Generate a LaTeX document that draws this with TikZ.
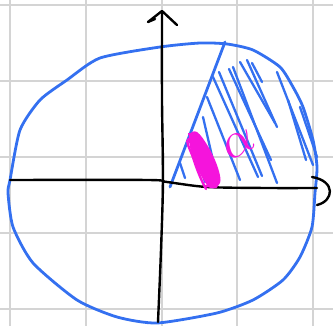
\documentclass[tikz,border=0pt]{standalone}
\usetikzlibrary{calc}
\definecolor{penblue}{RGB}{52,112,240}
\definecolor{penpink}{RGB}{245,20,220}
\definecolor{gridgray}{RGB}{212,212,212}
\begin{document}
\begin{tikzpicture}[x=1pt,y=-1pt,line cap=round,line join=round,
  pen/.style={penblue,line width=2.8pt},
  hatch/.style={penblue,line width=2.3pt},
  scribble/.style={penpink,line width=2.4pt},
  ax/.style={black,line width=2.4pt}]
\useasboundingbox (0,0) rectangle (333,326);
% ---- grid ----
\foreach \gx in {10,86,162,237,313}
  \draw[gridgray,line width=1.4pt] (\gx,0) -- (\gx,326);
\foreach \gy in {5,81,157,233,309}
  \draw[gridgray,line width=1.4pt] (0,\gy) -- (333,\gy);
% ---- disc ----
\draw[pen] plot[smooth cycle,tension=0.4] coordinates {
  (10,180) (20,130) (40,100) (67,80) (100,58) (160,47) (200,43) (227,44)
  (253,50) (280,67) (293,87) (303,107) (313,140) (317,167) (315,193)
  (312,227) (300,257) (283,280) (253,300) (217,313) (157,323) (117,317)
  (77,300) (33,263) (13,227) (8,193)};
% ---- hatched sector ----
\coordinate (O) at (170,187);
\coordinate (T) at (225,42);
\draw[pen] (O) -- (T);
\foreach \xa/\ya/\xb/\yb in {180/163/185/178, 193/142/205/182, 203/117/218/182,
    207/97/240/180, 213/77/258/177, 219/72/262/176, 229/69/271/160,
    233/67/277/183, 240/62/275/123, 247/60/277/127, 252/63/262/82,
    277/72/313/165, 288/100/306/160, 300/107/317/157}
  \draw[hatch] (\xa,\ya) -- (\xb,\yb);
% ---- axes ----
\draw[ax] plot[smooth,tension=0.5] coordinates {
  (10,180) (148,180) (167,182) (207,187) (267,188) (317,188)};
\draw[ax] (312,177) .. controls (336,181) and (334,201) .. (317,205);
\draw[ax] plot[smooth,tension=0.5] coordinates {
  (158,322) (161,250) (163,180) (162,100) (162,13)};
\draw[ax] (155,19) -- (148,22) -- (162,11) -- (177,25);
% ---- angle mark ----
\fill[penpink] plot[smooth cycle,tension=0.6] coordinates {
  (189,136) (197,132) (209,148) (218,168) (220,183) (210,188) (202,176) (192,154)};
\draw[scribble] (189,134) .. controls (207,150) and (224,175) .. (216,187)
  .. controls (208,191) and (196,165) .. (188,145)
  .. controls (184,133) and (199,140) .. (209,160)
  .. controls (214,172) and (213,189) .. (206,186);
\draw[scribble] (191,150) .. controls (195,165) and (200,178) .. (206,189);
\node[penpink,rotate=30,scale=5] (alpha) at (239,144) {$\alpha$};
\end{tikzpicture}
\end{document}
